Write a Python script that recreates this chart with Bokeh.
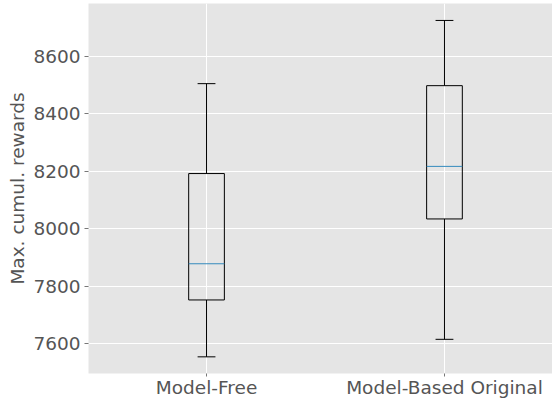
from bokeh.plotting import figure
from bokeh.models import ColumnDataSource, FixedTicker, Range1d
from bokeh.embed import file_html
from bokeh.resources import INLINE

categories = ["Model-Free", "Model-Based Original"]
positions = [1, 2]
q1 = [7752, 8034]
median = [7878, 8217]
q3 = [8192, 8498]
lower = [7554, 7615]
upper = [8505, 8725]
y_ticks = [7600, 7800, 8000, 8200, 8400, 8600]

box_w = 0.15
cap_w = 0.075

src = ColumnDataSource(dict(
    x=positions,
    left=[p - box_w / 2 for p in positions],
    right=[p + box_w / 2 for p in positions],
    cl=[p - cap_w / 2 for p in positions],
    cr=[p + cap_w / 2 for p in positions],
    q1=q1, q3=q3, med=median, lo=lower, hi=upper,
))

p = figure(width=552, height=401, output_backend="svg", toolbar_location=None,
           x_range=Range1d(0.504, 2.454), y_range=Range1d(7496, 8784),
           min_border_left=88, min_border_right=0, min_border_top=3, min_border_bottom=28)

p.background_fill_color = "#E5E5E5"
p.border_fill_color = "white"
p.outline_line_color = None

FONT = "DejaVu Sans"
FS = "18.5px"

for ax in (p.xaxis[0], p.yaxis[0]):
    ax.axis_line_color = None
    ax.major_tick_line_color = "#777777"
    ax.major_tick_line_width = 1
    ax.major_tick_out = 4
    ax.major_tick_in = 0
    ax.minor_tick_line_color = None
    ax.major_label_text_font = FONT
    ax.major_label_text_font_size = FS
    ax.major_label_text_color = "#555555"
    ax.major_label_standoff = 4

p.xaxis.ticker = FixedTicker(ticks=positions)
p.xaxis.major_label_overrides = {pos: c for pos, c in zip(positions, categories)}
p.xaxis.major_label_standoff = 0
p.xaxis.major_tick_out = 3
p.yaxis.ticker = FixedTicker(ticks=y_ticks)
p.yaxis.axis_label = "Max. cumul. rewards"
p.yaxis.axis_label_text_font = FONT
p.yaxis.axis_label_text_font_size = FS
p.yaxis.axis_label_text_font_style = "normal"
p.yaxis.axis_label_text_color = "#555555"
p.yaxis.axis_label_standoff = 2

p.grid.grid_line_color = "white"
p.grid.grid_line_width = 1

# whiskers
p.segment(x0="x", y0="lo", x1="x", y1="q1", source=src, line_color="black", line_width=1)
p.segment(x0="x", y0="q3", x1="x", y1="hi", source=src, line_color="black", line_width=1)
# caps
p.segment(x0="cl", y0="lo", x1="cr", y1="lo", source=src, line_color="black", line_width=1)
p.segment(x0="cl", y0="hi", x1="cr", y1="hi", source=src, line_color="black", line_width=1)
# boxes
p.quad(left="left", right="right", bottom="q1", top="q3", source=src,
       fill_color=None, line_color="black", line_width=1)
# medians
p.segment(x0="left", y0="med", x1="right", y1="med", source=src, line_color="#348ABD", line_width=1)

open("out.html", "w").write(file_html(p, INLINE))
